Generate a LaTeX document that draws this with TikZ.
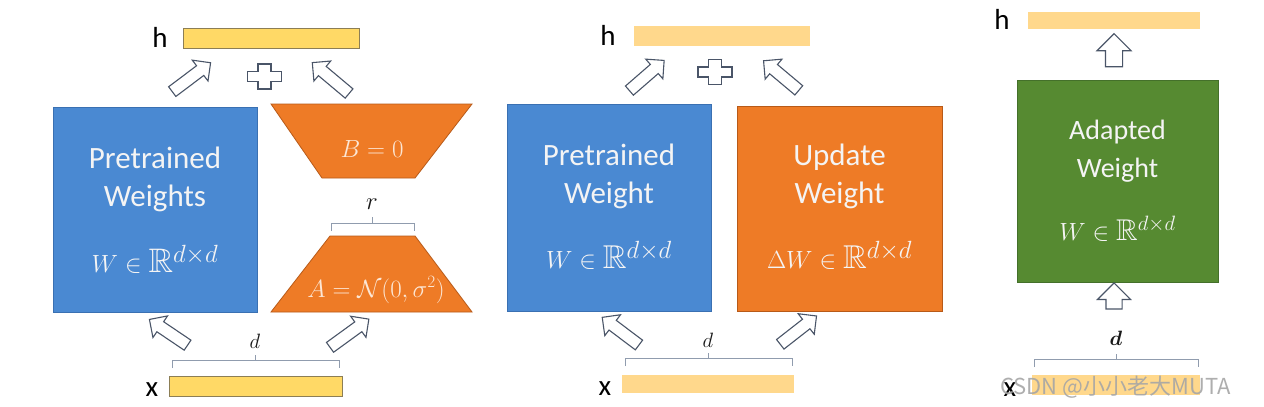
\documentclass[tikz,border=0pt]{standalone}
\usepackage{amssymb}
\usepackage{fontspec}
\setmainfont{Carlito}
\newfontfamily\cjkfont{Noto Sans CJK SC}
\usetikzlibrary{shapes.arrows}
\definecolor{lblue}{HTML}{4A89D2}
\definecolor{lblueline}{HTML}{3A70B2}
\definecolor{lorange}{HTML}{EE7B26}
\definecolor{lorangeline}{HTML}{B85A18}
\definecolor{lgreen}{HTML}{568A31}
\definecolor{lgreenline}{HTML}{44702A}
\definecolor{ybar}{HTML}{FFD966}
\definecolor{ybarline}{HTML}{8C7E55}
\definecolor{ybarb}{HTML}{FFD88C}
\definecolor{arrowline}{HTML}{4A5568}
\definecolor{brk}{HTML}{909CAE}
\definecolor{txtw}{HTML}{F4F4F4}
\definecolor{txto}{HTML}{FCE6D4}
\tikzset{
  blockarrow/.style={single arrow, draw=arrowline, fill=white, line width=1.1pt,
    inner xsep=0pt, inner ysep=5.5pt, minimum width=0pt,
    single arrow head extend=7pt, minimum height=#1},
  vblockarrow/.style={single arrow, draw=arrowline, fill=white, line width=1.1pt,
    inner xsep=0pt, inner ysep=8pt, minimum width=0pt,
    single arrow head extend=8.5pt, minimum height=#1, rotate=90},
  wbox/.style={draw=lblueline, line width=0.8pt, fill=lblue, inner sep=0pt},
  obox/.style={draw=lorangeline, line width=0.8pt, fill=lorange, inner sep=0pt},
  gbox/.style={draw=lgreenline, line width=0.8pt, fill=lgreen, inner sep=0pt},
  bartop/.style={fill=ybar, draw=ybarline, line width=1pt, inner sep=0pt},
  barlight/.style={fill=ybarb, inner sep=0pt},
  boxtxt/.style={text=txtw, anchor=base, inner sep=0pt, font=\fontsize{31}{36}\selectfont},
  boxtxtc/.style={text=txtw, anchor=base, inner sep=0pt, font=\fontsize{28}{32}\selectfont},
  lbl/.style={text=black, anchor=base, inner sep=0pt, font=\fontsize{29}{32}\selectfont},
  dimlbl/.style={text=black!90, anchor=base, inner sep=0pt, font=\fontsize{21}{24}\selectfont},
  brace/.style={draw=brk, line width=1pt},
  pics/plussign/.style={code={
    \draw[arrowline, fill=white, line width=1.1pt]
      (-6.5,-12.5) -- (6.5,-12.5) -- (6.5,-5) -- (17,-5) -- (17,5) -- (6.5,5)
      -- (6.5,12.5) -- (-6.5,12.5) -- (-6.5,5) -- (-17,5) -- (-17,-5) -- (-6.5,-5) -- cycle;
  }}
}
\begin{document}
\begin{tikzpicture}[x=1pt,y=-1pt]
\fill[white] (0,0) rectangle (1264,407);
\useasboundingbox (0,0) rectangle (1264,407);

% ================= Panel 1 =================
\node[bartop, minimum width=176pt, minimum height=20pt] (h1) at (271,38) {};
\node[lbl] (h1l) at (160,47) {h};
\pic at (264.5,76.5) {plussign};
\node[blockarrow=48pt, rotate=37] (a1tl) at (189,79) {};
\node[blockarrow=48pt, rotate=140] (a1tr) at (333,80) {};

\node[wbox, minimum width=204pt, minimum height=205pt] (w1) at (155,209.5) {};
\node[boxtxt] (w1a) at (155,168) {Pretrained};
\node[boxtxt] (w1b) at (155,206) {Weights};
\node[boxtxt, font=\fontsize{34}{36}\selectfont] (w1c) at (155,272) {$W\in\mathbb{R}^{d\times d}$};

\draw[obox] (271,104) -- (472,104) -- (415,178) -- (322,178) -- cycle;
\node[text=txto, anchor=base, inner sep=0pt, font=\fontsize{25}{28}\selectfont] (bt) at (372,157) {$B=0$};

\node[dimlbl, font=\fontsize{25}{28}\selectfont] (rl) at (372,209) {$r$};
\draw[brace] (331,231) -- (331,223) -- (414,223) -- (414,231);
\draw[brace] (372,223) -- (372,217);

\draw[obox] (330,236) -- (415,236) -- (472,312) -- (271,312) -- cycle;
\node[text=txto, anchor=base, inner sep=0pt, font=\fontsize{26}{28}\selectfont] (at) at (376,297) {$A=\mathcal{N}(0,\sigma^2)$};

\node[blockarrow=46pt, rotate=146] (a1bl) at (171,334) {};
\node[blockarrow=48pt, rotate=36] (a1br) at (347,335) {};

\node[dimlbl] (d1) at (255,348) {$d$};
\draw[brace] (172,368) -- (172,360) -- (339,360) -- (339,368);
\draw[brace] (255,360) -- (255,355);
\node[bartop, minimum width=173pt, minimum height=20pt] (x1) at (255.5,386) {};
\node[lbl] (x1l) at (152,396) {x};

% ================= Panel 2 =================
\node[barlight, minimum width=176pt, minimum height=20pt] (h2) at (722,36) {};
\node[lbl] (h2l) at (608,45) {h};
\pic at (715,72) {plussign};
\node[blockarrow=46pt, rotate=41] (a2tl) at (644.5,77.5) {};
\node[blockarrow=46pt, rotate=140] (a2tr) at (783.5,77.5) {};

\node[wbox, minimum width=204pt, minimum height=207pt] (w2) at (609,207.5) {};
\node[boxtxt] (w2a) at (609,165) {Pretrained};
\node[boxtxt] (w2b) at (609,203) {Weight};
\node[boxtxt, font=\fontsize{33}{36}\selectfont] (w2c) at (609,268) {$W\in\mathbb{R}^{d\times d}$};

\node[obox, minimum width=205pt, minimum height=205pt] (u2) at (839.5,208.5) {};
\node[boxtxt] (u2a) at (839.5,165) {Update};
\node[boxtxt] (u2b) at (839.5,203) {Weight};
\node[boxtxt, font=\fontsize{33}{36}\selectfont] (u2c) at (839.5,268) {$\Delta W\in\mathbb{R}^{d\times d}$};

\node[blockarrow=46pt, rotate=143] (a2bl) at (623,333) {};
\node[blockarrow=46pt, rotate=38] (a2br) at (796,332) {};

\node[dimlbl] (d2) at (708,347) {$d$};
\draw[brace] (625,366) -- (625,358) -- (792,358) -- (792,366);
\draw[brace] (708,358) -- (708,353);
\node[barlight, minimum width=172pt, minimum height=18pt] (x2) at (708,384) {};
\node[lbl] (x2l) at (605,395) {x};

% ================= Panel 3 =================
\node[barlight, minimum width=172pt, minimum height=17pt] (h3) at (1114,20.5) {};
\node[lbl] (h3l) at (1002,29) {h};
\node[vblockarrow=33pt] (a3t) at (1114,54.5) {};

\node[gbox, minimum width=201pt, minimum height=202pt] (g3) at (1117.5,181) {};
\node[boxtxtc] (g3a) at (1117.5,139) {Adapted};
\node[boxtxtc] (g3b) at (1117.5,177) {Weight};
\node[boxtxtc, font=\fontsize{30}{32}\selectfont] (g3c) at (1117.5,240) {$W\in\mathbb{R}^{d\times d}$};

\node[vblockarrow=26pt, inner ysep=7.5pt] (a3b) at (1114,300) {};

\node[dimlbl, font=\fontsize{22}{24}\selectfont\boldmath] (d3) at (1116,345) {$d$};
\draw[brace] (1034,367) -- (1034,359) -- (1198,359) -- (1198,367);
\draw[brace] (1116,359) -- (1116,354);
\node[barlight, minimum width=168pt, minimum height=20pt] (x3) at (1116,385) {};
\node[lbl] (x3l) at (1010,396) {x};

% watermark
\node[text=gray!70, opacity=0.9, anchor=west, inner sep=0pt,
      font=\cjkfont\fontsize{22}{24}\selectfont] (wm) at (1000,387) {CSDN @小小老大MUTA};
\end{tikzpicture}
\end{document}
